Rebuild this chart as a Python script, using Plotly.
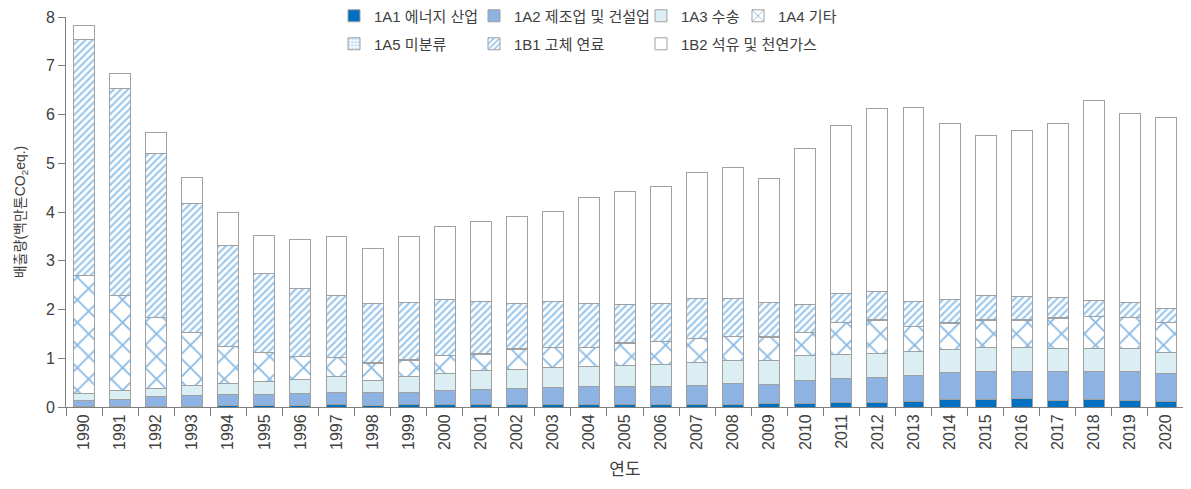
import plotly.graph_objects as go

years = [str(y) for y in range(1990, 2021)]

# segment values (million t CO2eq.)
a1 = [0.02, 0.02, 0.02, 0.02, 0.03, 0.03, 0.04, 0.05, 0.04, 0.05, 0.05, 0.05, 0.05, 0.05, 0.06, 0.06,
      0.06, 0.05, 0.05, 0.07, 0.07, 0.09, 0.09, 0.11, 0.16, 0.16, 0.18, 0.13, 0.15, 0.14, 0.11]
a2 = [0.12, 0.14, 0.19, 0.21, 0.22, 0.23, 0.24, 0.25, 0.25, 0.25, 0.29, 0.31, 0.33, 0.35, 0.36, 0.36,
      0.37, 0.40, 0.44, 0.40, 0.47, 0.49, 0.51, 0.53, 0.54, 0.57, 0.54, 0.59, 0.58, 0.58, 0.57]
a3 = [0.14, 0.17, 0.17, 0.21, 0.23, 0.26, 0.29, 0.32, 0.26, 0.32, 0.35, 0.38, 0.39, 0.41, 0.41, 0.43,
      0.45, 0.47, 0.47, 0.49, 0.51, 0.49, 0.50, 0.49, 0.48, 0.49, 0.50, 0.48, 0.47, 0.48, 0.44]
a4 = [2.41, 1.95, 1.45, 1.08, 0.76, 0.59, 0.46, 0.39, 0.35, 0.34, 0.36, 0.34, 0.41, 0.41, 0.39, 0.46,
      0.46, 0.48, 0.48, 0.47, 0.47, 0.66, 0.68, 0.52, 0.54, 0.56, 0.56, 0.62, 0.65, 0.63, 0.61]
a5 = [0.01, 0.01, 0.01, 0.01, 0.01, 0.01, 0.01, 0.01, 0.01, 0.01, 0.01, 0.01, 0.01, 0.01, 0.01, 0.01,
      0.01, 0.01, 0.01, 0.01, 0.01, 0.01, 0.01, 0.01, 0.01, 0.01, 0.01, 0.01, 0.01, 0.01, 0.01]
b1 = [4.83, 4.24, 3.36, 2.65, 2.07, 1.61, 1.39, 1.26, 1.22, 1.18, 1.15, 1.07, 0.94, 0.93, 0.90, 0.79,
      0.78, 0.81, 0.77, 0.71, 0.58, 0.58, 0.58, 0.51, 0.48, 0.50, 0.48, 0.41, 0.33, 0.31, 0.28]
b2 = [0.29, 0.32, 0.43, 0.52, 0.66, 0.78, 1.01, 1.22, 1.13, 1.35, 1.50, 1.64, 1.77, 1.86, 2.16, 2.32,
      2.39, 2.59, 2.69, 2.54, 3.20, 3.46, 3.76, 3.97, 3.60, 3.27, 3.41, 3.57, 4.10, 3.88, 3.92]

names = ["1A1 에너지 산업", "1A2 제조업 및 건설업", "1A3 수송", "1A4 기타",
         "1A5 미분류", "1B1 고체 연료", "1B2 석유 및 천연가스"]
series = [a1, a2, a3, a4, a5, b1, b2]

BLUE = "#1878cc"
markers = [
    dict(color="#0070c0"),
    dict(color="#8db3e2"),
    dict(color="#daeef3"),
    dict(color="white", pattern=dict(shape="x", fgcolor=BLUE, bgcolor="white", size=16, solidity=0.22)),
    dict(color="white", pattern=dict(shape=".", fgcolor="#6fb2ea", bgcolor="white", size=4, solidity=0.5)),
    dict(color="white", pattern=dict(shape="/", fgcolor="#3590da", bgcolor="white", size=5, solidity=0.42)),
    dict(color="white"),
]

# one legend box per legend entry (two rows x four columns)
legend_ids = ["legend2", "legend4", "legend6", "legend8", "legend3", "legend5", "legend7"]

FONT = "Liberation Sans, Noto Sans CJK KR, sans-serif"
TXT = "#404040"
OFF = 8                      # page body margin
W, H = 1191 - OFF, 489 - OFF
PL, PR, PT, PB = 66, 1184, 17, 407   # plot area in page pixels

fig = go.Figure()
for nm, vals, mk, lg in zip(names, series, markers, legend_ids):
    m = dict(mk)
    m["line"] = dict(color="#a0a0a0", width=1)
    fig.add_trace(go.Bar(x=years, y=vals, name=nm, marker=m, legend=lg))

leg_common = dict(orientation="v", xanchor="left", yanchor="middle",
                  bgcolor="rgba(0,0,0,0)", font=dict(family=FONT, size=15, color=TXT))
col_x = [334, 474, 641, 738]
row_y = [16, 44]
cx = [(c - PL) / (PR - PL) for c in col_x]
ry = [(PB - r) / (PB - PT) for r in row_y]
layout_legs = {
    "legend2": dict(x=cx[0], y=ry[0], **leg_common),
    "legend3": dict(x=cx[0], y=ry[1], **leg_common),
    "legend4": dict(x=cx[1], y=ry[0], **leg_common),
    "legend5": dict(x=cx[1], y=ry[1], **leg_common),
    "legend6": dict(x=cx[2], y=ry[0], **leg_common),
    "legend7": dict(x=cx[2], y=ry[1], **leg_common),
    "legend8": dict(x=cx[3], y=ry[0], **leg_common),
}

fig.update_layout(
    barmode="stack",
    bargap=0.42,
    width=W, height=H,
    margin=dict(l=PL - OFF, r=W - (PR - OFF), t=PT - OFF, b=H - (PB - OFF), autoexpand=False),
    paper_bgcolor="white", plot_bgcolor="white",
    font=dict(family=FONT, color=TXT, size=16),
    **layout_legs,
)
fig.update_xaxes(
    type="category", showline=True, linecolor="#7f7f7f", linewidth=1,
    ticks="outside", tickson="boundaries", ticklen=8, tickcolor="#7f7f7f",
    tickangle=-90, tickfont=dict(size=16, color=TXT, family=FONT),
    title=dict(text="연도", font=dict(size=17, color=TXT, family=FONT), standoff=14),
    showgrid=False,
)
fig.update_yaxes(
    range=[0, 8], dtick=1, showline=True, linecolor="#7f7f7f", linewidth=1,
    ticks="outside", ticklen=7, tickcolor="#7f7f7f",
    tickfont=dict(size=16, color=TXT, family=FONT),
    title=dict(text="배출량(백만톤CO<sub>2</sub>eq.)", font=dict(size=14, color=TXT, family=FONT), standoff=16),
    showgrid=False, zeroline=False,
)

fig.write_html("out.html")
